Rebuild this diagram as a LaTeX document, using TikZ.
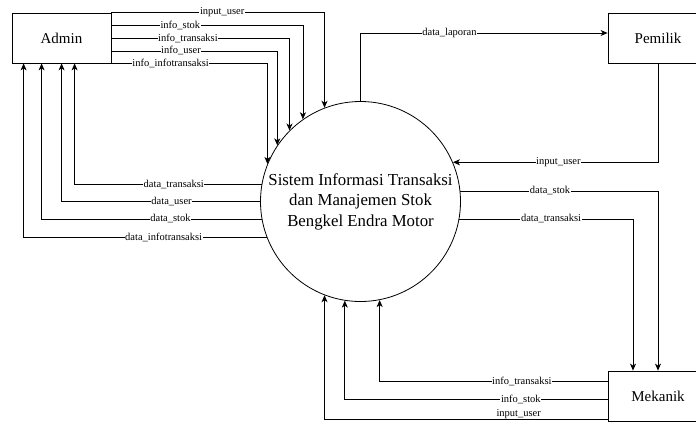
\documentclass[tikz,border=0pt]{standalone}
\usepackage{fontspec}
\setmainfont{Liberation Serif}
\usetikzlibrary{arrows.meta}

\begin{document}
\begin{tikzpicture}[x=1pt, y=-1pt, >={Stealth[length=7pt,width=6pt,inset=2pt]},
    entity/.style={draw, rectangle, line width=0.8pt, minimum width=100pt, minimum height=50pt, inner sep=0pt, font=\fontsize{15}{18}\selectfont},
    flow/.style={draw, ->, line width=0.8pt},
    lbl/.style={fill=white, inner sep=0.6pt, font=\fontsize{10.5}{12}\selectfont}]
    \useasboundingbox (0,0) rectangle (696,421);

    % Entities
    \node[entity, minimum width=99pt] (admin) at (61.5,38) {Admin};
    \node[entity] (pemilik) at (658,38) {Pemilik};
    \node[entity] (mekanik) at (658,396) {Mekanik};

    % Process
    \node[draw, circle, line width=0.8pt, minimum size=200pt, inner sep=0pt, align=center,
          font=\fontsize{16.8}{20.5}\selectfont] (sys) at (360.5,201.5)
        {Sistem Informasi Transaksi\\dan Manajemen Stok\\Bengkel Endra Motor};

    % Admin -> system
    \draw[flow] (admin.north east) -| node[lbl, pos=0.26] {input\_user} (sys.111);
    \draw[flow] ([yshift=-12.5pt]admin.north east) -| node[lbl, pos=0.18] {info\_stok} (sys.125);
    \draw[flow] (admin.east) -| node[lbl, pos=0.215] {info\_transaksi} (sys.135);
    \draw[flow] ([yshift=12.5pt]admin.south east) -| node[lbl, pos=0.21] {info\_user} (sys.146);
    \draw[flow] (admin.south east) -| node[lbl, pos=0.19] {info\_infotransaksi} (sys.158);

    % System -> admin
    \draw[flow] (sys.170.5) -| node[lbl, pos=0.235] {data\_transaksi} ([xshift=63pt]admin.south west);
    \draw[flow] (sys.180) -| node[lbl, pos=0.223] {data\_user} ([xshift=50pt]admin.south west);
    \draw[flow] (sys.190.7) -| node[lbl, pos=0.207] {data\_stok} ([xshift=30pt]admin.south west);
    \draw[flow] (sys.201.4) -| node[lbl, pos=0.212] {data\_infotransaksi} ([xshift=12pt]admin.south west);

    % Pemilik
    \draw[flow] (sys.north) |- node[lbl, pos=0.68] {data\_laporan} ([yshift=5pt]pemilik.west);
    \draw[flow] (pemilik.south) |- node[lbl, pos=0.743] {input\_user} (sys.23);

    % Mekanik
    \draw[flow] (sys.6.5) -| node[lbl, pos=0.227] {data\_stok} (mekanik.north);
    \draw[flow] (sys.-10) -| node[lbl, pos=0.264] {data\_transaksi} ([xshift=-25pt]mekanik.north);
    \draw[flow] ([yshift=15pt]mekanik.west) -| node[lbl, pos=0.188] {info\_transaksi} (sys.-79);
    \draw[flow] ([yshift=-3pt]mekanik.west) -| node[lbl, pos=0.165] {info\_stok} (sys.-99.5);
    \draw[flow] ([yshift=-23pt]mekanik.west) -| node[lbl, pos=0.157, yshift=5pt] {input\_user} (sys.-111);
\end{tikzpicture}
\end{document}
